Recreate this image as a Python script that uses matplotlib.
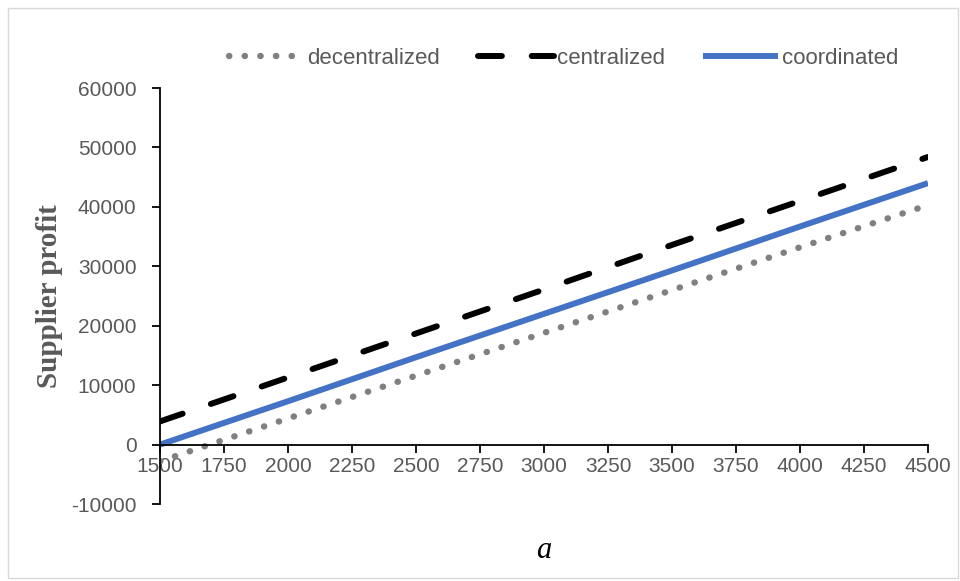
#!/usr/bin/env python3

import matplotlib
matplotlib.use("Agg")
import matplotlib.pyplot as plt
from matplotlib.patches import Rectangle

# values
a_values:       list[int]   = [1500, 2000, 2500, 3000, 3500, 4000, 4500]
decentralized:  list[float] = [-2800, 4400, 11600, 18800, 26000, 33200, 40300]
centralized:    list[float] = [3900, 11300, 18700, 26100, 33600, 41000, 48400]
coordinated:    list[float] = [0, 7300, 14700, 22000, 29300, 36700, 44000]

x_ticks: list[int] = list(range(1500, 4501, 250))
y_ticks: list[int] = list(range(-10000, 60001, 10000))

TEXT_GRAY: str = "#595959"
SANS: list[str] = ["Liberation Sans", "DejaVu Sans"]


def main() -> None:
    plt.rcParams["axes.unicode_minus"] = False

    fig = plt.figure(figsize=(9.6, 5.81), dpi=100)
    ax = fig.add_axes([0.1667, 0.1325, 0.8, 0.716])

    # light border round the whole chart
    fig.patches.append(Rectangle((8 / 960, 3 / 581), 950 / 960, 570 / 581,
                                 transform=fig.transFigure, fill=False,
                                 edgecolor="#d9d9d9", linewidth=1.0))

    ax.plot(a_values, decentralized, color="#808080", linewidth=4.6,
            linestyle=(0, (0.05, 2.4)), dash_capstyle="round",
            label="decentralized")
    ax.plot(a_values, centralized, color="black", linewidth=4.3,
            linestyle=(0, (4.0, 5.0)), dash_capstyle="round",
            label="centralized")
    ax.plot(a_values, coordinated, color="#4472C4", linewidth=4.3,
            solid_capstyle="butt", label="coordinated")

    ax.set_xlim(1500, 4500)
    ax.set_ylim(-10000, 60000)
    ax.set_xticks(x_ticks)
    ax.set_yticks(y_ticks)

    ax.spines["top"].set_visible(False)
    ax.spines["right"].set_visible(False)
    ax.spines["bottom"].set_position(("data", 0))
    ax.spines["left"].set_linewidth(1.3)
    ax.spines["bottom"].set_linewidth(1.3)

    ax.tick_params(axis="both", direction="out", length=6, width=1.3,
                   colors="black", labelcolor=TEXT_GRAY, labelsize=15)
    ax.tick_params(axis="x", pad=3)
    ax.tick_params(axis="y", pad=11)
    for lbl in ax.get_xticklabels() + ax.get_yticklabels():
        lbl.set_family(SANS)

    ax.set_ylabel("Supplier profit", family=["Liberation Serif"],
                  fontweight="bold", fontsize=21, color=TEXT_GRAY, labelpad=6)
    fig.text(0.566, 0.028, "a", family=["Liberation Serif"], style="italic",
             fontsize=22, color="black", ha="center", va="bottom")

    leg = ax.legend(loc="lower center", bbox_to_anchor=(0.525, 0.998), ncol=3,
                    frameon=False, handlelength=3.4, handletextpad=0.15,
                    columnspacing=1.7, prop={"family": SANS, "size": 16})
    for text in leg.get_texts():
        text.set_color(TEXT_GRAY)

    plt.savefig("out.png", dpi=100)
    plt.close(fig)


if __name__ == "__main__":
    main()
